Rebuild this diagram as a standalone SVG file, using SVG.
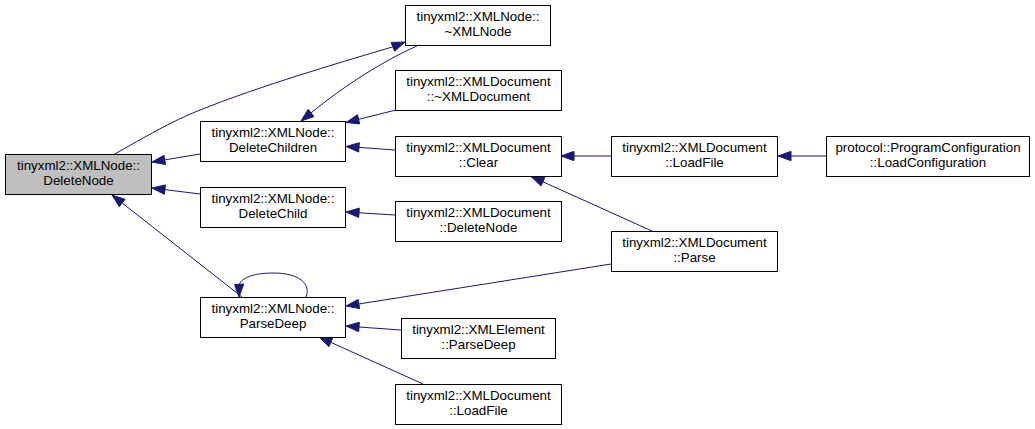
<svg xmlns="http://www.w3.org/2000/svg" width="1035" height="429" viewBox="0 0 1035 429">
<style>
.n rect{fill:#ffffff;stroke:#000000;stroke-width:1}
.hl rect{fill:#bfbfbf}
.n text{font-family:"Liberation Sans",Arial,sans-serif;font-size:13.33px;fill:#000000;text-anchor:middle}
.e path{fill:none;stroke:#191970;stroke-width:1}
.e polygon{fill:#191970;stroke:#191970;stroke-width:1}
</style>
<rect width="1035" height="429" fill="#ffffff"/>
<g id="edges" class="e">
<path d="M200,154 L164.8,159.9"/><polygon points="152,162 165.6,164.5 164,155.3"/>
<path d="M200,194 L164.9,189.6"/><polygon points="152,188 164.3,194.3 165.5,184.9"/>
<path d="M242,297 L122.2,203"/><polygon points="112,195 119.3,206.7 125.1,199.3"/>
<path d="M113,155 C145,137 170,122 200,110 C260,86 335,64 392.9,46.8"/><polygon points="405,42 394.6,51.2 391.2,42.4"/>
<path d="M417,46 C385,60 345,85 311.1,112.9"/><polygon points="301,121 314,116.6 308.2,109.2"/>
<path d="M396,110 L358.6,119.3"/><polygon points="346,122.5 359.7,123.9 357.5,114.7"/>
<path d="M395,150 L359,147.4"/><polygon points="346,146.5 358.7,152.1 359.3,142.7"/>
<path d="M395,215 L359,212.8"/><polygon points="346,212 358.7,217.5 359.3,208.1"/>
<path d="M611,156 L574,156"/><polygon points="561,156 574,160.7 574,151.3"/>
<path d="M826,156 L791,156"/><polygon points="778,156 791,160.7 791,151.3"/>
<path d="M652,231 L542.9,181.8"/><polygon points="531,176.5 541,186.1 544.8,177.5"/>
<path d="M611,264 L358.8,304"/><polygon points="346,306 359.6,308.6 358.1,299.4"/>
<path d="M401,330 L359,327"/><polygon points="346,326 358.7,331.7 359.3,322.3"/>
<path d="M423,384 L330.8,342.4"/><polygon points="319,337 328.9,346.7 332.7,338.1"/>
<path d="M306,297 C311,285 301,273 273,273 C253,273 242,278 239.2,284.3"/><polygon points="239,297 234.6,284.6 243.8,284"/>
</g>
<g id="node-deletenode" class="n hl"><rect x="5.5" y="154.5" width="146" height="40"/><text x="78.5" y="170">tinyxml2::XMLNode::</text><text x="78.5" y="184.7">DeleteNode</text></g>
<g id="node-deletechildren" class="n"><rect x="200.5" y="121.5" width="145" height="40"/><text x="273" y="137">tinyxml2::XMLNode::</text><text x="273" y="151.7">DeleteChildren</text></g>
<g id="node-deletechild" class="n"><rect x="200.5" y="187.5" width="145" height="40"/><text x="273" y="203">tinyxml2::XMLNode::</text><text x="273" y="217.7">DeleteChild</text></g>
<g id="node-parsedeep" class="n"><rect x="200.5" y="297.5" width="145" height="40"/><text x="273" y="313">tinyxml2::XMLNode::</text><text x="273" y="327.7">ParseDeep</text></g>
<g id="node-xmlnode-dtor" class="n"><rect x="405.5" y="5.5" width="145" height="40"/><text x="478" y="21">tinyxml2::XMLNode::</text><text x="478" y="35.7">~XMLNode</text></g>
<g id="node-xmldocument-dtor" class="n"><rect x="395.5" y="70.5" width="166" height="40"/><text x="478.5" y="86">tinyxml2::XMLDocument</text><text x="478.5" y="100.7">::~XMLDocument</text></g>
<g id="node-clear" class="n"><rect x="395.5" y="136.5" width="166" height="40"/><text x="478.5" y="152">tinyxml2::XMLDocument</text><text x="478.5" y="166.7">::Clear</text></g>
<g id="node-doc-deletenode" class="n"><rect x="395.5" y="201.5" width="166" height="40"/><text x="478.5" y="217">tinyxml2::XMLDocument</text><text x="478.5" y="231.7">::DeleteNode</text></g>
<g id="node-element-parsedeep" class="n"><rect x="401.5" y="318.5" width="154" height="40"/><text x="478.5" y="334">tinyxml2::XMLElement</text><text x="478.5" y="348.7">::ParseDeep</text></g>
<g id="node-loadfile-2" class="n"><rect x="395.5" y="384.5" width="166" height="40"/><text x="478.5" y="400">tinyxml2::XMLDocument</text><text x="478.5" y="414.7">::LoadFile</text></g>
<g id="node-loadfile" class="n"><rect x="611.5" y="136.5" width="166" height="40"/><text x="694.5" y="152">tinyxml2::XMLDocument</text><text x="694.5" y="166.7">::LoadFile</text></g>
<g id="node-parse" class="n"><rect x="611.5" y="231.5" width="166" height="40"/><text x="694.5" y="247">tinyxml2::XMLDocument</text><text x="694.5" y="261.7">::Parse</text></g>
<g id="node-loadconfiguration" class="n"><rect x="826.5" y="136.5" width="203" height="40"/><text x="928" y="152">protocol::ProgramConfiguration</text><text x="928" y="166.7">::LoadConfiguration</text></g>
</svg>
